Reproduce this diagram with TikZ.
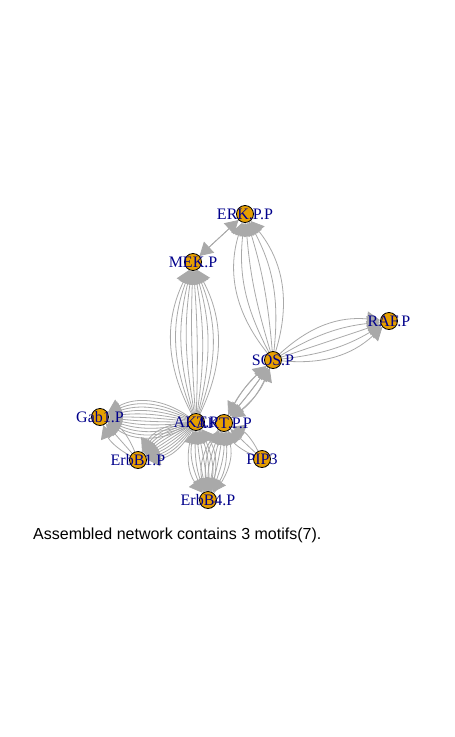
\documentclass[tikz,border=0pt]{standalone}
\usepackage{fontspec}
\setmainfont{Liberation Serif}
\newfontfamily\capfont{Liberation Sans}
\usetikzlibrary{arrows.meta,backgrounds}
\definecolor{vfill}{HTML}{E69F00}
\definecolor{egray}{HTML}{A9A9A9}
\definecolor{lblue}{HTML}{00008B}
\tikzset{
  vert/.style={circle,draw=black,fill=vfill,line width=0.8pt,minimum size=17pt,inner sep=0pt},
  lab/.style={text=lblue,font=\fontsize{16}{16}\selectfont,inner sep=0pt},
  edge/.style={draw=egray,line width=0.8pt,-{Triangle[length=13pt,width=15pt]}},
  captext/.style={font=\capfont\fontsize{16}{16}\selectfont,inner sep=0pt,anchor=base west}
}
\begin{document}
\begin{tikzpicture}[x=1pt,y=-1pt]
\useasboundingbox (0,0) rectangle (455,737);
% vertices
\node[vert] (erk) at (245,214) {};
\node[vert] (mek) at (193,262) {};
\node[vert] (raf) at (389,321) {};
\node[vert] (sos) at (273,360) {};
\node[vert] (aktp) at (196,422) {};
\node[vert] (aktpp) at (224,423) {};
\node[vert] (gab) at (100,417) {};
\node[vert] (erb1) at (138,460) {};
\node[vert] (pip) at (262,459) {};
\node[vert] (erb4) at (208,500) {};
% labels
\node[lab] (erkL) at (erk) {ERK.P.P};
\node[lab] (mekL) at (mek) {MEK.P};
\node[lab] (rafL) at (raf) {RAF.P};
\node[lab] (sosL) at (sos) {SOS.P};
\node[lab] (aktpL) at (aktp) {AKT.P};
\node[lab] (aktppL) at (aktpp) {AKT.P.P};
\node[lab] (gabL) at (gab) {Gab1.P};
\node[lab] (erb1L) at (erb1) {ErbB1.P};
\node[lab] (pipL) at (pip) {PIP3};
\node[lab] (erb4L) at (erb4) {ErbB4.P};
% caption
\node[captext] (cap) at (33,539) {Assembled network contains 3 motifs(7).};
% edges
\begin{pgfonlayer}{background}
\draw[edge] (mek) -- (erk);
\draw[edge] (erk) -- (mek);
\foreach \b in {-27,-21,...,27} \draw[edge] (aktp) to[bend left=\b] (mek);
\foreach \b in {-28,-17,-6,6,17,28} \draw[edge] (sos) to[bend left=\b] (erk);
\foreach \b in {-24,-12,0,12,24} \draw[edge] (sos) to[bend left=\b] (raf);
\foreach \b in {-16,-3,10} \draw[edge] (aktpp) to[bend left=\b] (sos);
\foreach \b in {16,3,-10} \draw[edge] (sos) to[bend left=\b] (aktpp);
\foreach \b in {-33,-27,...,33} \draw[edge] (aktp) to[bend left=\b] (gab);
\foreach \b in {-30,-24,...,30} \draw[edge] (aktp) to[bend left=\b] (erb1);
\foreach \b in {-20,0,20} \draw[edge] (erb1) to[bend left=\b] (gab);
\foreach \b in {-28,-12,4,20} \draw[edge] (aktp) to[bend left=\b] (erb4);
\foreach \b in {20,4,-12,-28} \draw[edge] (erb4) to[bend left=\b] (aktp);
\foreach \b in {-28,-12,4,20} \draw[edge] (aktpp) to[bend left=\b] (erb4);
\foreach \b in {20,4,-12,-28} \draw[edge] (erb4) to[bend left=\b] (aktpp);
\foreach \b in {-20,0,20} \draw[edge] (pip) to[bend left=\b] (aktpp);
\end{pgfonlayer}
\end{tikzpicture}
\end{document}
